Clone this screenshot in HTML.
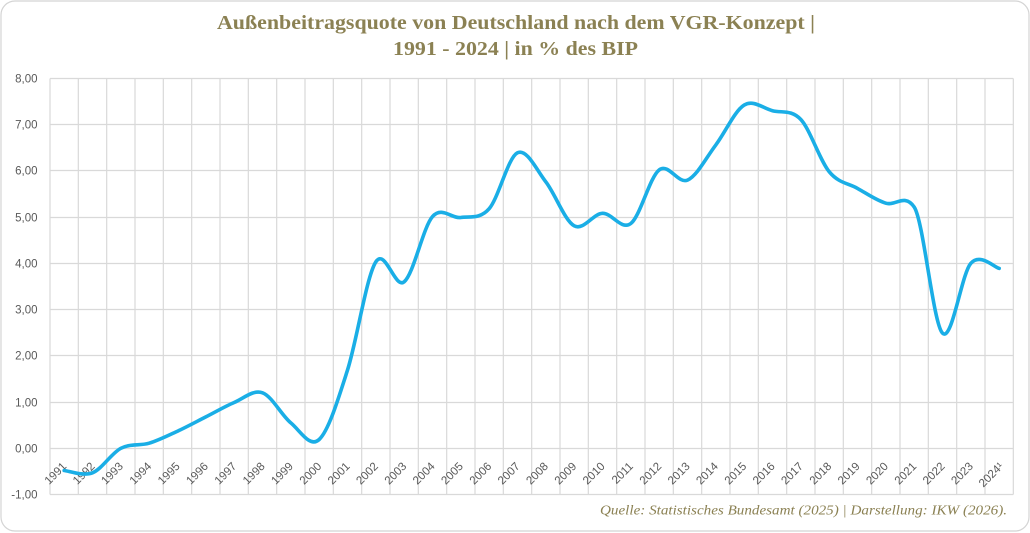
<!DOCTYPE html>
<html>
<head>
<meta charset="utf-8">
<style>
html,body{margin:0;padding:0;background:#fff;}
svg{display:block;}
</style>
</head>
<body>
<svg width="1030" height="533" viewBox="0 0 1030 533" xmlns="http://www.w3.org/2000/svg">
<rect x="1" y="1" width="1028" height="530" rx="14" ry="14" fill="#fff" stroke="#d4d4d4" stroke-width="1.2"/>

<!-- title -->
<g font-family="'Liberation Serif', serif" font-weight="bold" font-size="20" fill="#8b8153" text-anchor="middle">
<text x="516" y="29" textLength="598" lengthAdjust="spacingAndGlyphs">Außenbeitragsquote von Deutschland nach dem VGR-Konzept |</text>
<text x="515.5" y="55" textLength="245" lengthAdjust="spacingAndGlyphs">1991 - 2024 | in % des BIP</text>
</g>

<!-- gridlines -->
<g stroke="#d9d9d9" stroke-width="1.2" fill="none">
<path d="M50,78.5H1013.3M50,124.5H1013.3M50,170.5H1013.3M50,217.5H1013.3M50,263.5H1013.3M50,309.5H1013.3M50,355.5H1013.3M50,402.5H1013.3M50,448.5H1013.3M50,494.5H1013.3"/>
<path d="M50,78.5V494.5M78.33,78.5V494.5M106.67,78.5V494.5M135,78.5V494.5M163.33,78.5V494.5M191.67,78.5V494.5M220,78.5V494.5M248.33,78.5V494.5M276.67,78.5V494.5M305,78.5V494.5M333.33,78.5V494.5M361.67,78.5V494.5M390,78.5V494.5M418.33,78.5V494.5M446.67,78.5V494.5M475,78.5V494.5M503.33,78.5V494.5M531.67,78.5V494.5M560,78.5V494.5M588.33,78.5V494.5M616.67,78.5V494.5M645,78.5V494.5M673.33,78.5V494.5M701.67,78.5V494.5M730,78.5V494.5M758.33,78.5V494.5M786.67,78.5V494.5M815,78.5V494.5M843.33,78.5V494.5M871.67,78.5V494.5M900,78.5V494.5M928.33,78.5V494.5M956.67,78.5V494.5M985,78.5V494.5M1013.33,78.5V494.5"/>
</g>

<!-- y labels -->
<g font-family="'Liberation Sans', sans-serif" font-size="11.5" fill="#595959" text-anchor="end">
<text x="37.5" y="82.5">8,00</text>
<text x="37.5" y="128.5">7,00</text>
<text x="37.5" y="174.5">6,00</text>
<text x="37.5" y="221.5">5,00</text>
<text x="37.5" y="267.5">4,00</text>
<text x="37.5" y="313.5">3,00</text>
<text x="37.5" y="359.5">2,00</text>
<text x="37.5" y="406.5">1,00</text>
<text x="37.5" y="452.5">0,00</text>
<text x="37.5" y="498.5">-1,00</text>
</g>

<!-- x labels -->
<g font-family="'Liberation Sans', sans-serif" font-size="11.5" fill="#595959" text-anchor="end">
<text transform="translate(67.17,467) rotate(-45)">1991</text>
<text transform="translate(95.5,467) rotate(-45)">1992</text>
<text transform="translate(123.83,467) rotate(-45)">1993</text>
<text transform="translate(152.17,467) rotate(-45)">1994</text>
<text transform="translate(180.5,467) rotate(-45)">1995</text>
<text transform="translate(208.83,467) rotate(-45)">1996</text>
<text transform="translate(237.17,467) rotate(-45)">1997</text>
<text transform="translate(265.5,467) rotate(-45)">1998</text>
<text transform="translate(293.83,467) rotate(-45)">1999</text>
<text transform="translate(322.17,467) rotate(-45)">2000</text>
<text transform="translate(350.5,467) rotate(-45)">2001</text>
<text transform="translate(378.83,467) rotate(-45)">2002</text>
<text transform="translate(407.17,467) rotate(-45)">2003</text>
<text transform="translate(435.5,467) rotate(-45)">2004</text>
<text transform="translate(463.83,467) rotate(-45)">2005</text>
<text transform="translate(492.17,467) rotate(-45)">2006</text>
<text transform="translate(520.5,467) rotate(-45)">2007</text>
<text transform="translate(548.83,467) rotate(-45)">2008</text>
<text transform="translate(577.17,467) rotate(-45)">2009</text>
<text transform="translate(605.5,467) rotate(-45)">2010</text>
<text transform="translate(633.83,467) rotate(-45)">2011</text>
<text transform="translate(662.17,467) rotate(-45)">2012</text>
<text transform="translate(690.5,467) rotate(-45)">2013</text>
<text transform="translate(718.83,467) rotate(-45)">2014</text>
<text transform="translate(747.17,467) rotate(-45)">2015</text>
<text transform="translate(775.5,467) rotate(-45)">2016</text>
<text transform="translate(803.83,467) rotate(-45)">2017</text>
<text transform="translate(832.17,467) rotate(-45)">2018</text>
<text transform="translate(860.5,467) rotate(-45)">2019</text>
<text transform="translate(888.83,467) rotate(-45)">2020</text>
<text transform="translate(917.17,467) rotate(-45)">2021</text>
<text transform="translate(945.5,467) rotate(-45)">2022</text>
<text transform="translate(973.83,467) rotate(-45)">2023</text>
<text transform="translate(1004.17,467) rotate(-45)">2024¹</text>
</g>

<!-- series -->
<path fill="none" stroke="#1aaee6" stroke-width="3.6" stroke-linecap="round" stroke-linejoin="round" d="M64.17,470.5 C68.89,470.88 83.06,476.5 92.5,472.8 C101.94,469.1 111.39,453.23 120.83,448.3 C130.27,443.37 139.73,446.05 149.17,443.2 C158.61,440.35 168.06,435.58 177.5,431.2 C186.94,426.82 196.39,421.68 205.83,416.9 C215.27,412.12 224.73,406.52 234.17,402.5 C243.61,398.48 253.06,389.4 262.5,392.8 C271.94,396.2 281.39,415.12 290.83,422.9 C300.27,430.68 309.73,448.3 319.17,439.5 C328.61,430.7 338.06,399.7 347.5,370.1 C356.94,340.5 366.39,276.62 375.83,261.9 C385.27,247.18 394.73,289.35 404.17,281.8 C413.61,274.25 423.06,227.32 432.5,216.6 C441.94,205.88 451.39,218.82 460.83,217.5 C470.27,216.18 479.73,219.48 489.17,208.7 C498.61,197.92 508.06,157.27 517.5,152.8 C526.94,148.33 536.39,169.73 545.83,181.9 C555.27,194.07 564.73,220.57 574.17,225.8 C583.61,231.03 593.06,213.68 602.5,213.3 C611.94,212.92 621.39,230.73 630.83,223.5 C640.27,216.27 649.73,177.13 659.17,169.9 C668.61,162.67 678.06,184.27 687.5,180.1 C696.94,175.93 706.39,157.4 715.83,144.9 C725.27,132.4 734.73,110.8 744.17,105.1 C753.61,99.4 763.06,108.3 772.5,110.7 C781.94,113.1 791.39,109.33 800.83,119.5 C810.27,129.67 819.73,160.22 829.17,171.7 C838.61,183.18 848.06,183.15 857.5,188.4 C866.94,193.65 876.39,200.43 885.83,203.2 C895.27,206.3 904.73,193 914.17,207 C923.61,221 933.06,323.38 942.5,333.1 C951.94,342.82 961.39,274.08 970.83,263.3 C980.27,252.52 994.45,267.55 999.17,268.4"/>

<!-- source -->
<text x="1007" y="514.5" text-anchor="end" font-family="'Liberation Serif', serif" font-style="italic" font-size="14" fill="#8b8153" textLength="407" lengthAdjust="spacingAndGlyphs">Quelle: Statistisches Bundesamt (2025) | Darstellung: IKW (2026).</text>
</svg>
</body>
</html>
